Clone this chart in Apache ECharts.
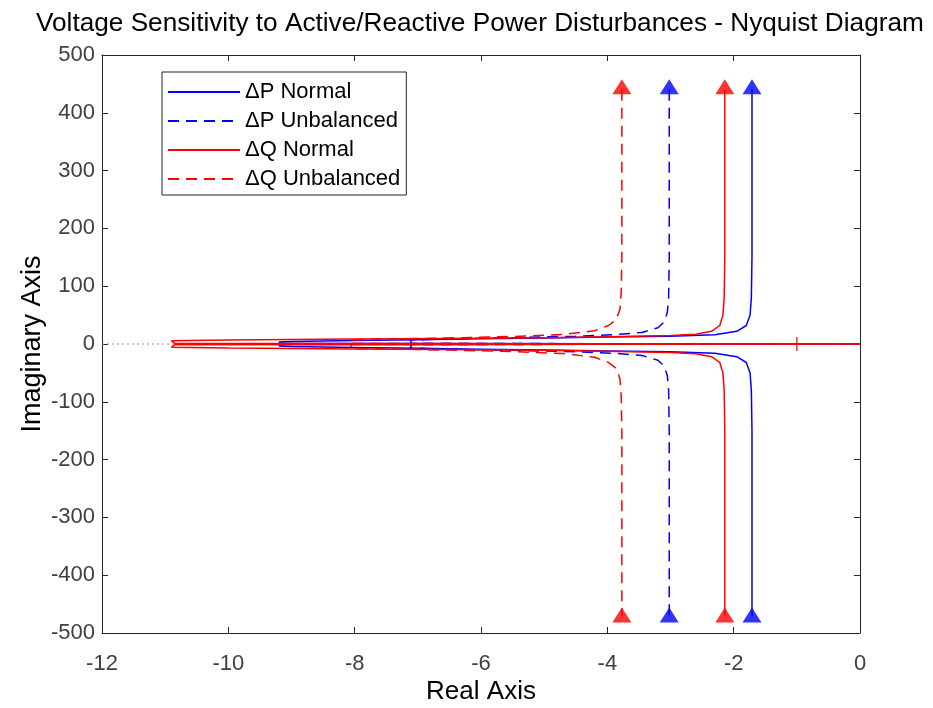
<!DOCTYPE html>
<html>
<head>
<meta charset="utf-8">
<script src="https://cdn.jsdelivr.net/npm/echarts@6/dist/echarts.min.js"></script>
<style>
html,body{margin:0;padding:0;background:#fff;}
#chart{width:933px;height:708px;}
</style>
</head>
<body>
<div id="chart"></div>
<script>
// ---- Data ----
const xTickLabels = ['-12','-10','-8','-6','-4','-2','0'];
const yTickLabels = ['-500','-400','-300','-200','-100','0','100','200','300','400','500'];
const seriesNames = ['\u0394P Normal', '\u0394P Unbalanced', '\u0394Q Normal', '\u0394Q Unbalanced'];

// Each curve: points ordered from the origin outward (upper = positive imag, lower = negative imag)
const pNormalX   = [0, -1, -4, -7, -9.15, -9.2, -9, -8, -7, -6, -5, -4, -3, -2.3, -1.95, -1.8, -1.74, -1.72, -1.71, -1.71];
const pNormalUpY = [0, 0.1, 0.4, 0.7, 1, 3.5, 4.5, 6, 7.5, 9, 10.5, 12, 13.5, 16, 22, 32, 50, 80, 150, 440];
const pNormalLoY = [0, -0.1, -0.4, -0.7, -1, -3.5, -4.5, -6, -7.5, -9, -10.5, -12, -13.5, -16, -22, -32, -50, -80, -150, -470];

const pUnbalX   = [0, -1, -4, -7.1, -7.12, -6.5, -5.5, -4.5, -3.9, -3.45, -3.2, -3.1, -3.05, -3.03, -3.02, -3.02];
const pUnbalUpY = [0, 0.1, 0.5, 1, 7, 9, 11, 13.5, 16, 20, 28, 38, 55, 80, 150, 440];
const pUnbalLoY = [0, -0.1, -0.5, -1, -7, -9, -11, -13.5, -16, -20, -28, -38, -55, -80, -150, -470];

const qNormalX   = [0, -1, -4, -8, -10.85, -10.9, -10, -8, -6, -5, -4, -3, -2.6, -2.35, -2.22, -2.17, -2.15, -2.14, -2.14];
const qNormalUpY = [0, 0.1, 0.5, 1, 1.5, 5.5, 7, 8.5, 10, 11, 12.5, 14.5, 17, 22, 32, 50, 80, 150, 440];
const qNormalLoY = [0, -0.1, -0.5, -1, -1.5, -5.5, -7, -8.5, -10, -11, -12.5, -14.5, -17, -22, -32, -50, -80, -150, -470];

const qUnbalX   = [0, -1, -5, -8.05, -8.07, -7.5, -6.5, -5.5, -4.7, -4.2, -3.98, -3.86, -3.8, -3.78, -3.77, -3.77];
const qUnbalUpY = [0, 0.1, 0.5, 1, 7, 8.5, 10.5, 13, 16.5, 23, 32, 42, 60, 90, 150, 440];
const qUnbalLoY = [0, -0.1, -0.5, -1, -7, -8.5, -10.5, -13, -16.5, -23, -32, -42, -60, -90, -150, -470];

// Direction arrows (x of each vertical asymptote, arrow y positions)
const arrowX = [-1.71, -3.02, -2.14, -3.77];
const arrowTopY = [445, 445, 445, 445];
const arrowBottomY = [-469, -469, -469, -469];

const criticalPoint = [-1, 0];
const zeroLineX = [-12, 0];

// ---- Build chart ----
const BLUE = '#0000FF', RED = '#FF0000', AXIS = '#262626';
const colors = [BLUE, BLUE, RED, RED];
const dashed = [false, true, false, true];

function buildPath(xs, up, lo) {
  const pts = [];
  for (let i = xs.length - 1; i >= 0; i--) pts.push([xs[i], up[i]]);
  for (let i = 1; i < xs.length; i++) pts.push([xs[i], lo[i]]);
  return pts;
}
const curves = [
  buildPath(pNormalX, pNormalUpY, pNormalLoY),
  buildPath(pUnbalX, pUnbalUpY, pUnbalLoY),
  buildPath(qNormalX, qNormalUpY, qNormalLoY),
  buildPath(qUnbalX, qUnbalUpY, qUnbalLoY)
];

const series = [];
series.push({
  type: 'line', name: 'zero', data: zeroLineX.map(x => [x, 0]),
  symbol: 'none', silent: true, z: 1,
  lineStyle: {color: '#909090', width: 1.2, type: [2, 3]}
});
curves.forEach((pts, i) => {
  series.push({
    type: 'line', name: seriesNames[i], data: pts, symbol: 'none', showSymbol: false, z: 2 + i,
    lineStyle: {color: colors[i], width: 1.5, type: dashed[i] ? [11, 7] : 'solid'},
    itemStyle: {color: colors[i]}
  });
});
const arrowData = [];
arrowX.forEach((x, i) => {
  arrowData.push({value: [x, arrowTopY[i]], itemStyle: {color: colors[i]}});
  arrowData.push({value: [x, arrowBottomY[i]], itemStyle: {color: colors[i]}});
});
series.push({
  type: 'scatter', name: 'arrows', data: arrowData, symbol: 'triangle',
  symbolSize: [19, 15], z: 10, silent: true
});
series.push({
  type: 'scatter', name: 'critical', symbol: 'rect', z: 11, silent: true,
  data: [
    {value: criticalPoint, symbolSize: [1.5, 14]},
    {value: criticalPoint, symbolSize: [14, 1.5]}
  ],
  itemStyle: {color: RED}
});

const FONT = 'Liberation Sans';
const labelStyle = {color: '#404040', fontSize: 22, fontFamily: FONT};
const chart = echarts.init(document.getElementById('chart'), null, {renderer: 'canvas'});
chart.setOption({
  animation: false,
  backgroundColor: '#ffffff',
  title: {
    text: 'Voltage Sensitivity to Active/Reactive Power Disturbances - Nyquist Diagram',
    left: 31, top: 6,
    textStyle: {fontFamily: FONT, fontSize: 26.2, fontWeight: 'normal', color: '#000'}
  },
  grid: {left: 102, right: 73, top: 55, bottom: 75, show: false, outerBoundsMode: 'none', containLabel: false},
  legend: {
    data: seriesNames, orient: 'vertical', left: 162, top: 72,
    backgroundColor: '#fff', borderColor: AXIS, borderWidth: 1, borderRadius: 0,
    padding: [9, 6, 5, 5], itemGap: 7, itemWidth: 72, itemHeight: 14,
    itemStyle: {opacity: 0},
    textStyle: {fontFamily: FONT, fontSize: 22, color: '#000'}
  },
  xAxis: [{
    type: 'value', min: -12, max: 0, interval: 2,
    name: 'Real Axis', nameLocation: 'middle', nameGap: 46, nameMoveOverlap: false,
    nameTextStyle: {fontFamily: FONT, fontSize: 26, color: '#000'},
    axisLine: {show: true, onZero: false, lineStyle: {color: AXIS, width: 1}},
    axisTick: {show: true, inside: true, length: 6, lineStyle: {color: AXIS}},
    axisLabel: Object.assign({margin: 20, formatter: v => xTickLabels[Math.round((v + 12) / 2)]}, labelStyle),
    splitLine: {show: false}
  }, {
    type: 'value', min: -12, max: 0, interval: 2, position: 'top',
    axisLine: {show: true, onZero: false, lineStyle: {color: AXIS, width: 1}},
    axisTick: {show: true, inside: true, length: 6, lineStyle: {color: AXIS}},
    axisLabel: {show: false}, splitLine: {show: false}
  }],
  yAxis: [{
    type: 'value', min: -500, max: 500, interval: 100,
    name: 'Imaginary Axis', nameLocation: 'middle', nameGap: 56, nameRotate: 90, nameMoveOverlap: false,
    nameTextStyle: {fontFamily: FONT, fontSize: 27, color: '#000'},
    axisLine: {show: true, onZero: false, lineStyle: {color: AXIS, width: 1}},
    axisTick: {show: true, inside: true, length: 6, lineStyle: {color: AXIS}},
    axisLabel: Object.assign({margin: 7, formatter: v => yTickLabels[Math.round((v + 500) / 100)]}, labelStyle),
    splitLine: {show: false}
  }, {
    type: 'value', min: -500, max: 500, interval: 100, position: 'right',
    axisLine: {show: true, onZero: false, lineStyle: {color: AXIS, width: 1}},
    axisTick: {show: true, inside: true, length: 6, lineStyle: {color: AXIS}},
    axisLabel: {show: false}, splitLine: {show: false}
  }],
  series: series
});
</script>
</body>
</html>
